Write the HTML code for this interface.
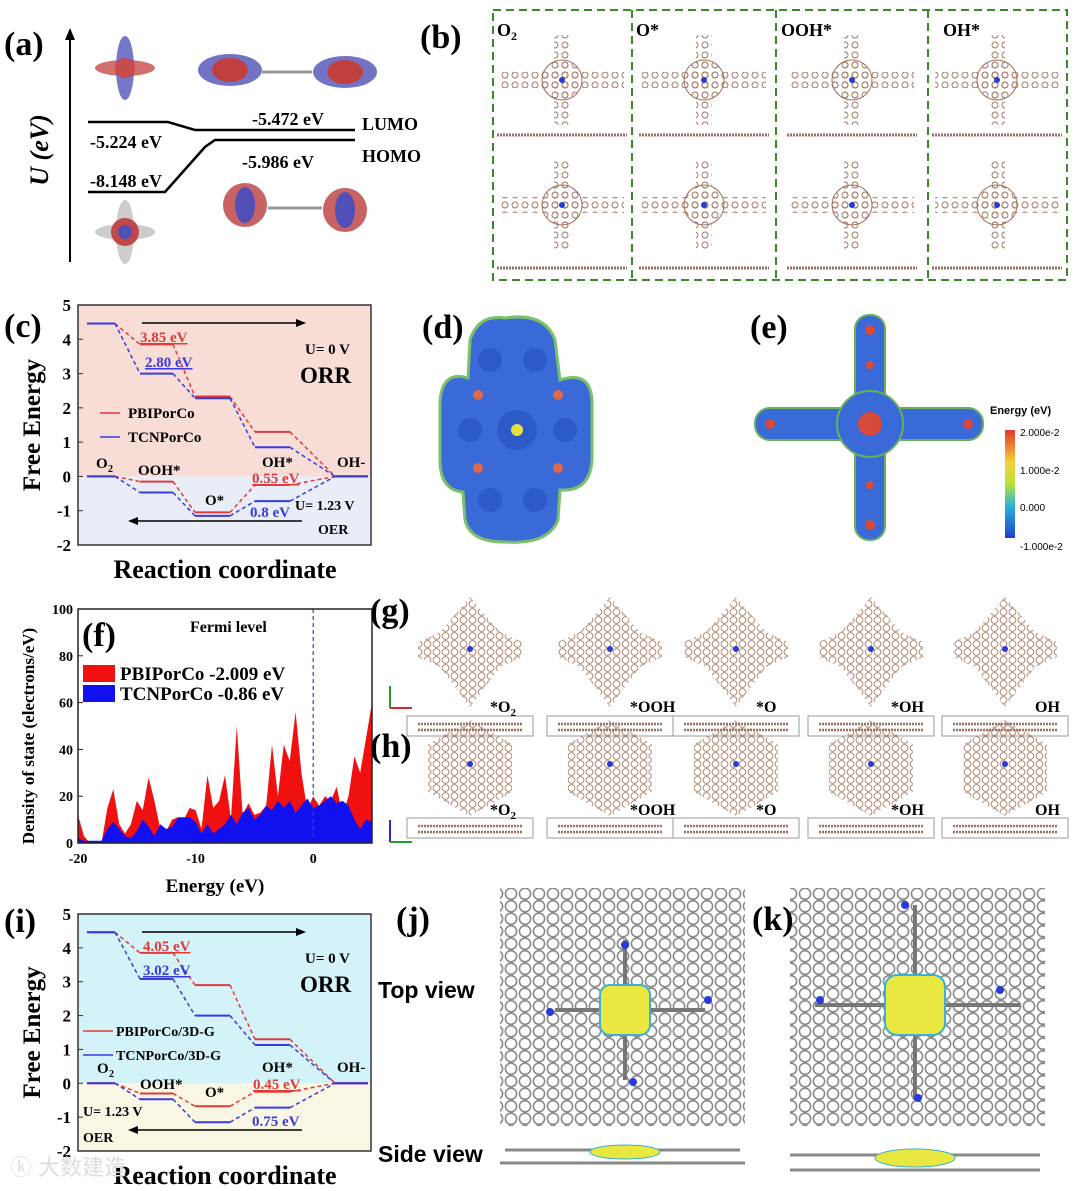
<!DOCTYPE html>
<html><head><meta charset="utf-8">
<style>
html,body{margin:0;padding:0;background:#fff;}
svg{display:block;font-family:"Liberation Serif",serif;}
.b{font-weight:bold;}
</style></head>
<body>
<svg id="fig" width="1079" height="1191" viewBox="0 0 1079 1191" xmlns="http://www.w3.org/2000/svg">
<defs>
  <pattern id="hexBrown" width="9" height="8" patternUnits="userSpaceOnUse">
    <circle cx="4.5" cy="4" r="3.4" fill="none" stroke="#b08870" stroke-width="1"/>
  </pattern>
  <pattern id="hexGrey" width="14" height="12.5" patternUnits="userSpaceOnUse">
    <circle cx="7" cy="6.25" r="5.6" fill="none" stroke="#8a8a8a" stroke-width="1.6"/>
  </pattern>
  <pattern id="molBrown" width="10" height="10" patternUnits="userSpaceOnUse">
    <circle cx="5" cy="5" r="3" fill="none" stroke="#a0705a" stroke-width="0.9"/>
  </pattern>
  <linearGradient id="cbar" x1="0" y1="1" x2="0" y2="0">
    <stop offset="0" stop-color="#1f3fd0"/><stop offset="0.3" stop-color="#2ab6d8"/>
    <stop offset="0.5" stop-color="#b8e03a"/><stop offset="0.7" stop-color="#f3d23a"/>
    <stop offset="1" stop-color="#e0382a"/>
  </linearGradient>
</defs>

<!-- Panel (a) -->
<g>
  <text x="4" y="55" font-size="34" class="b">(a)</text>
  <line x1="70" y1="262" x2="70" y2="36" stroke="#000" stroke-width="2"/>
  <polygon points="70,28 65,40 75,40" fill="#000"/>
  <text transform="translate(48,150) rotate(-90)" font-size="26" class="b" text-anchor="middle" font-style="italic">U (eV)</text>
  <g stroke="#000" stroke-width="2.5" fill="none">
    <polyline points="88,122 168,122 195,130 355,130"/>
    <polyline points="88,192 165,192 205,147 215,140 355,140"/>
  </g>
  <g font-size="18" class="b">
    <text x="90" y="148">-5.224 eV</text>
    <text x="252" y="125">-5.472 eV</text>
    <text x="362" y="130">LUMO</text>
    <text x="362" y="162">HOMO</text>
    <text x="242" y="168">-5.986 eV</text>
    <text x="90" y="187">-8.148 eV</text>
  </g>
  <g>
    <ellipse cx="125" cy="68" rx="30" ry="8" fill="#c84a4a" opacity=".8"/>
    <ellipse cx="125" cy="68" rx="9" ry="32" fill="#4a4ab8" opacity=".75"/>
    <circle cx="125" cy="68" r="10" fill="#c84a4a"/>
  </g>
  <g>
    <ellipse cx="230" cy="70" rx="32" ry="16" fill="#5050b8" opacity=".8"/>
    <ellipse cx="230" cy="70" rx="18" ry="12" fill="#c04040"/>
    <ellipse cx="345" cy="72" rx="32" ry="16" fill="#5050b8" opacity=".8"/>
    <ellipse cx="345" cy="72" rx="18" ry="12" fill="#c04040"/>
    <line x1="262" y1="72" x2="312" y2="72" stroke="#999" stroke-width="3"/>
  </g>
  <g>
    <ellipse cx="125" cy="232" rx="30" ry="8" fill="#aaa" opacity=".6"/>
    <ellipse cx="125" cy="232" rx="9" ry="32" fill="#aaa" opacity=".6"/>
    <circle cx="125" cy="232" r="14" fill="#c04848"/>
    <circle cx="125" cy="232" r="7" fill="#5050b8"/>
  </g>
  <g>
    <ellipse cx="245" cy="205" rx="22" ry="22" fill="#c04848" opacity=".85"/>
    <ellipse cx="245" cy="205" rx="10" ry="18" fill="#5050b8"/>
    <ellipse cx="345" cy="210" rx="22" ry="22" fill="#c04848" opacity=".85"/>
    <ellipse cx="345" cy="210" rx="10" ry="18" fill="#5050b8"/>
    <line x1="268" y1="208" x2="322" y2="208" stroke="#999" stroke-width="3"/>
  </g>
</g>

<!-- Panel (b) -->
<g>
  <text x="420" y="48" font-size="34" class="b">(b)</text>
  <rect x="493" y="10" width="574" height="270" fill="none" stroke="#3a8a2a" stroke-width="2" stroke-dasharray="8,5"/>
  <g stroke="#3a8a2a" stroke-width="2" stroke-dasharray="8,5">
    <line x1="632" y1="10" x2="632" y2="280"/><line x1="776" y1="10" x2="776" y2="280"/><line x1="928" y1="10" x2="928" y2="280"/>
  </g>
  <g font-size="18" class="b">
    <text x="497" y="36">O<tspan font-size="12" dy="4">2</tspan></text>
    <text x="636" y="36">O*</text>
    <text x="781" y="36">OOH*</text>
    <text x="943" y="36">OH*</text>
  </g>
  <g id="bmols"></g>
</g>

<!-- Panel (c) -->
<g id="panelC">
  <text x="4" y="337" font-size="34" class="b">(c)</text>
</g>

<!-- Panel (d) -->
<g>
  <text x="422" y="338" font-size="34" class="b">(d)</text>
  <path d="M505,318 Q545,312 555,340 L560,380 Q590,370 592,400 L592,460 Q590,492 560,490 L558,520 Q548,545 505,542 Q470,542 465,520 L463,492 Q440,490 440,460 L440,402 Q442,370 468,378 L470,340 Q478,314 505,318 Z" fill="#3a6ad8" stroke="#7ac06a" stroke-width="3"/>
  <g fill="#2450c0" opacity=".6">
    <circle cx="490" cy="360" r="12"/><circle cx="535" cy="360" r="12"/><circle cx="470" cy="430" r="12"/><circle cx="565" cy="430" r="12"/>
    <circle cx="490" cy="500" r="12"/><circle cx="535" cy="500" r="12"/><circle cx="517" cy="430" r="20"/>
  </g>
  <g fill="#e06a4a"><circle cx="478" cy="395" r="5"/><circle cx="558" cy="395" r="5"/><circle cx="478" cy="468" r="5"/><circle cx="558" cy="468" r="5"/></g>
  <circle cx="517" cy="430" r="6" fill="#e8e040"/>
</g>

<!-- Panel (e) -->
<g>
  <text x="750" y="338" font-size="34" class="b">(e)</text>
  <g fill="#3a6ad8" stroke="#6ab05a" stroke-width="2">
    <rect x="855" y="315" width="30" height="225" rx="14"/>
    <rect x="755" y="408" width="228" height="32" rx="15"/>
    <circle cx="870" cy="424" r="33"/>
  </g>
  <g fill="#d84a3a">
    <circle cx="870" cy="424" r="12"/><circle cx="870" cy="330" r="5"/><circle cx="870" cy="525" r="5"/>
    <circle cx="770" cy="424" r="5"/><circle cx="968" cy="424" r="5"/><circle cx="870" cy="365" r="4"/><circle cx="870" cy="485" r="4"/>
  </g>
  <text x="990" y="414" font-size="11" class="b" font-family="Liberation Sans, sans-serif">Energy (eV)</text>
  <rect x="1005" y="430" width="10" height="108" fill="url(#cbar)"/>
  <g font-size="10" font-family="Liberation Sans, sans-serif">
    <text x="1020" y="436">2.000e-2</text>
    <text x="1020" y="474">1.000e-2</text>
    <text x="1020" y="511">0.000</text>
    <text x="1020" y="550">-1.000e-2</text>
  </g>
</g>

<!-- Panel (f) -->
<g id="panelF"></g>

<!-- Panels (g),(h) -->
<g id="panelGH">
  <text x="370" y="622" font-size="34" class="b">(g)</text>
  <text x="370" y="757" font-size="34" class="b">(h)</text>
  <g stroke-width="2"><line x1="390" y1="708" x2="390" y2="686" stroke="#2a9a2a"/><line x1="390" y1="708" x2="412" y2="708" stroke="#d82a2a"/>
  <line x1="390" y1="842" x2="390" y2="820" stroke="#2a2ad8"/><line x1="390" y1="842" x2="412" y2="842" stroke="#2a9a2a"/></g>
</g>

<!-- Panel (i) -->
<g id="panelI">
  <text x="4" y="932" font-size="34" class="b">(i)</text>
</g>

<!-- Panels (j),(k) -->
<g>
  <rect x="500" y="888" width="245" height="238" fill="url(#hexGrey)"/>
  <rect x="790" y="888" width="255" height="238" fill="url(#hexGrey)"/>
  <text x="396" y="930" font-size="34" class="b">(j)</text>
  <text x="752" y="930" font-size="34" class="b">(k)</text>
  <text x="378" y="998" font-size="23" class="b" font-family="Liberation Sans, sans-serif">Top view</text>
  <text x="378" y="1162" font-size="23" class="b" font-family="Liberation Sans, sans-serif">Side view</text>
  <g stroke="#777" stroke-width="4" fill="none">
    <line x1="625" y1="940" x2="625" y2="1080"/><line x1="555" y1="1010" x2="705" y2="1010"/>
    <line x1="915" y1="905" x2="915" y2="1100"/><line x1="815" y1="1005" x2="1020" y2="1005"/>
  </g>
  <g fill="#e8e840" stroke="#3ab0d8" stroke-width="2">
    <rect x="600" y="985" width="50" height="50" rx="10"/><rect x="885" y="975" width="60" height="60" rx="12"/>
  </g>
  <g fill="#2a3ad8"><circle cx="625" cy="945" r="4"/><circle cx="550" cy="1012" r="4"/><circle cx="708" cy="1000" r="4"/><circle cx="633" cy="1082" r="4"/>
  <circle cx="905" cy="905" r="4"/><circle cx="820" cy="1000" r="4"/><circle cx="1000" cy="990" r="4"/><circle cx="918" cy="1098" r="4"/></g>
  <g stroke="#888" stroke-width="3">
    <line x1="500" y1="1163" x2="745" y2="1163"/><line x1="505" y1="1150" x2="740" y2="1150"/>
    <line x1="790" y1="1170" x2="1040" y2="1170"/><line x1="790" y1="1155" x2="1040" y2="1155"/>
  </g>
  <ellipse cx="625" cy="1152" rx="35" ry="7" fill="#e8e840" stroke="#3ab0d8"/>
  <ellipse cx="915" cy="1158" rx="40" ry="9" fill="#e8e840" stroke="#3ab0d8"/>
</g>
<text x="10" y="1175" font-size="22" fill="#ddd" font-family="Liberation Sans, Noto Sans CJK SC, sans-serif">ⓚ 大数建造</text>
</svg>

<script>
// ===== Panel (c) data =====
const cSteps = ["O2","OOH*","O*","OH*","OH-"];
const cOrrPBI = [4.46, 3.85, 2.33, 1.30, 0];
const cOrrTCN = [4.46, 3.00, 2.28, 0.85, 0];
const cOerPBI = [0, -0.15, -1.05, -0.25, 0];
const cOerTCN = [0, -0.47, -1.15, -0.72, 0];
// ===== Panel (i) data =====
const iOrrPBI = [4.46, 3.85, 2.90, 1.30, 0];
const iOrrTCN = [4.46, 3.08, 2.00, 1.13, 0];
const iOerPBI = [0, -0.30, -0.68, -0.25, 0];
const iOerTCN = [0, -0.47, -1.15, -0.72, 0];
const feTicks = [5,4,3,2,1,0,-1,-2];
// ===== Panel (f) data =====
const dosEnergy = [-20,-19.5,-19,-18.5,-18,-17.5,-17,-16.5,-16,-15.5,-15,-14.5,-14,-13.5,-13,-12.5,-12,-11.5,-11,-10.5,-10,-9.5,-9,-8.5,-8,-7.5,-7,-6.5,-6,-5.5,-5,-4.5,-4,-3.5,-3,-2.5,-2,-1.5,-1,-0.5,0,0.5,1,1.5,2,2.5,3,3.5,4,4.5,5];
const dosPBI = [12,3,0,0,0,15,23,8,4,8,18,14,28,18,6,5,10,11,10,15,14,6,29,15,18,29,10,50,12,17,12,13,16,42,20,42,35,56,30,14,20,16,20,18,24,12,20,37,30,45,60];
const dosTCN = [2,1,1,1,1,6,9,6,3,2,5,10,7,3,8,6,7,11,11,11,9,4,8,4,6,8,12,8,13,15,10,12,16,14,18,15,18,13,16,19,15,16,18,20,17,18,16,10,6,10,9];
const dosXTicks = [-20,-10,0];
const dosYTicks = [0,20,40,60,80,100];

const NS = "http://www.w3.org/2000/svg";
function mk(tag, attrs, parent){const e=document.createElementNS(NS,tag);for(const k in attrs)e.setAttribute(k,attrs[k]);parent.appendChild(e);return e;}
function txt(s, attrs, parent){const e=mk("text",attrs,parent);e.textContent=s;return e;}

function energyPanel(g, opt){
  const L=78, R=371, T=opt.top, B=opt.bottom;
  const y=v=>B-(v+2)/7*(B-T);
  const stepX=[[87,115],[140,173],[195,230],[255,290],[335,368]];
  const bgTop=mk("rect",{x:L,y:T,width:R-L,height:y(0)-T,fill:opt.bgTop},g);
  
  
  const bgBot=mk("rect",{x:L,y:y(0),width:R-L,height:B-y(0),fill:opt.bgBot},g);
  
  
  mk("rect",{x:L,y:T,width:R-L,height:B-T,fill:"none",stroke:"#333","stroke-width":1.5},g);
  feTicks.forEach(t=>{
    mk("line",{x1:L,x2:L+5,y1:y(t),y2:y(t),stroke:"#333"},g);
    const tl=txt(String(t),{x:L-7,y:y(t)+6,"font-size":17,"font-weight":"bold","text-anchor":"end"},g);
    
    
  });
  const yt=txt("Free Energy",{transform:`translate(40,${(T+B)/2}) rotate(-90)`,"font-size":25,"font-weight":"bold","text-anchor":"middle"},g);
  
  
  const xt=txt("Reaction coordinate",{x:225,y:B+33,"font-size":26,"font-weight":"bold","text-anchor":"middle"},g);
  
  
  function series(vals,color,name){
    const sg=mk("g",{},g);
    
    
    vals.forEach((v,i)=>{
      mk("line",{x1:stepX[i][0],x2:stepX[i][1],y1:y(v),y2:y(v),stroke:color,"stroke-width":2},sg);
      if(i<vals.length-1) mk("line",{x1:stepX[i][1],x2:stepX[i+1][0],y1:y(v),y2:y(vals[i+1]),stroke:color,"stroke-width":1.5,"stroke-dasharray":"4,3"},sg);
    });
  }
  series(opt.orrPBI,"#e03a3a","orr-pbi-series");
  series(opt.orrTCN,"#3a3ae0","orr-tcn-series");
  series(opt.oerPBI,"#e03a3a","oer-pbi-series");
  series(opt.oerTCN,"#3a3ae0","oer-tcn-series");
  mk("line",{x1:142,x2:300,y1:T+18,y2:T+18,stroke:"#000","stroke-width":1.5},g);
  mk("polygon",{points:`306,${T+18} 296,${T+14} 296,${T+22}`},g);
  mk("line",{x1:135,x2:302,y1:opt.oerArrowY,y2:opt.oerArrowY,stroke:"#000","stroke-width":1.5},g);
  mk("polygon",{points:`128,${opt.oerArrowY} 138,${opt.oerArrowY-4} 138,${opt.oerArrowY+4}`},g);
  txt("U= 0 V",{x:305,y:T+49,"font-size":15,"font-weight":"bold"},g);
  txt("ORR",{x:300,y:T+78,"font-size":23,"font-weight":"bold"},g);
  opt.labels.forEach(l=>txt(l[0],{x:l[1],y:l[2],"font-size":l[3]||15,"font-weight":"bold",fill:l[4]||"#000","text-decoration":l[5]||"none"},g));
  mk("line",{x1:opt.legL[0],x2:opt.legL[1],y1:opt.legY,y2:opt.legY,stroke:"#e03a3a","stroke-width":1.5},g);
  mk("line",{x1:opt.legL[0],x2:opt.legL[1],y1:opt.legY+24,y2:opt.legY+24,stroke:"#3a3ae0","stroke-width":1.5},g);
  const l1=txt(opt.leg[0],{x:opt.legX,y:opt.legY+5,"font-size":opt.legFs,"font-weight":"bold"},g);
  
  
  const l2=txt(opt.leg[1],{x:opt.legX,y:opt.legY+29,"font-size":opt.legFs,"font-weight":"bold"},g);
  
  
  return y;
}

energyPanel(document.getElementById("panelC"),{top:305,bottom:545,bgTop:"#f8dcd6",bgBot:"#e9edf8",
  orrPBI:cOrrPBI,orrTCN:cOrrTCN,oerPBI:cOerPBI,oerTCN:cOerTCN,oerArrowY:521,legX:128,legY:413,legFs:15,legL:[100,120],
  leg:["PBIPorCo","TCNPorCo"],
  labels:[["3.85 eV",140,342,15,"#e03a3a","underline"],["2.80 eV",145,367,15,"#3a3ae0","underline"],
  ["O",96,468,15],["2",108,472,10],["OOH*",138,475],["O*",205,505],["OH*",262,467],["OH-",337,467],
  ["0.55 eV",252,483,15,"#e03a3a","underline"],["0.8 eV",250,517,15,"#3a3ae0"],["U= 1.23 V",295,510,14],["OER",318,534,14]]});

energyPanel(document.getElementById("panelI"),{top:914,bottom:1151,bgTop:"#d4f3f8",bgBot:"#faf6e4",
  orrPBI:iOrrPBI,orrTCN:iOrrTCN,oerPBI:iOerPBI,oerTCN:iOerTCN,oerArrowY:1130,legX:116,legY:1031,legFs:14,legL:[83,113],
  leg:["PBIPorCo/3D-G","TCNPorCo/3D-G"],
  labels:[["4.05 eV",143,951,15,"#e03a3a","underline"],["3.02 eV",143,975,15,"#3a3ae0","underline"],
  ["O",97,1073,15],["2",109,1077,10],["OOH*",140,1089],["O*",205,1097],["OH*",262,1072],["OH-",337,1072],
  ["0.45 eV",253,1089,15,"#e03a3a","underline"],["0.75 eV",252,1126,15,"#3a3ae0"],["U= 1.23 V",83,1116,14],["OER",83,1142,14]]});

// Panel (f)
(function(){
  const g=document.getElementById("panelF");
  const L=78,R=372,T=609,B=843;
  const x=v=>L+(v+20)/25*(R-L), y=v=>B-v/100*(B-T);
  function area(vals,color,name){
    let d=`M${x(dosEnergy[0])},${y(0)}`;
    vals.forEach((v,i)=>d+=` L${x(dosEnergy[i]).toFixed(1)},${y(v).toFixed(1)}`);
    d+=` L${x(dosEnergy[dosEnergy.length-1])},${y(0)} Z`;
    const p=mk("path",{d:d,fill:color,"stroke-linejoin":"round"},g);
    
    
  }
  area(dosPBI,"#f01010","dos-pbi-area");
  area(dosTCN,"#1010f0","dos-tcn-area");
  mk("line",{x1:x(0),x2:x(0),y1:T,y2:B,stroke:"#3a3ae0","stroke-width":1.2,"stroke-dasharray":"4,3"},g);
  mk("rect",{x:L,y:T,width:R-L,height:B-T,fill:"none",stroke:"#222","stroke-width":1.5},g);
  dosYTicks.forEach(t=>{mk("line",{x1:L,x2:L+5,y1:y(t),y2:y(t),stroke:"#222"},g);
    const tl=txt(String(t),{x:L-5,y:y(t)+5,"font-size":14,"font-weight":"bold","text-anchor":"end"},g);
    
    });
  dosXTicks.forEach(t=>{mk("line",{x1:x(t),x2:x(t),y1:B,y2:B-5,stroke:"#222"},g);
    const tl=txt(String(t),{x:x(t),y:B+20,"font-size":14,"font-weight":"bold","text-anchor":"middle"},g);
    
    });
  const yt=txt("Density of state (electrons/eV)",{transform:`translate(34,${(T+B)/2+10}) rotate(-90)`,"font-size":17,"font-weight":"bold","text-anchor":"middle"},g);
  
  
  const xt=txt("Energy (eV)",{x:215,y:892,"font-size":19,"font-weight":"bold","text-anchor":"middle"},g);
  
  
  txt("(f)",{x:82,y:646,"font-size":34,"font-weight":"bold"},g);
  txt("Fermi level",{x:190,y:632,"font-size":16,"font-weight":"bold"},g);
  mk("rect",{x:83,y:665,width:32,height:17,fill:"#f01010"},g);
  mk("rect",{x:83,y:685,width:32,height:17,fill:"#1010f0"},g);
  const l1=txt("PBIPorCo  -2.009 eV",{x:120,y:680,"font-size":19,"font-weight":"bold"},g);
  l1.setAttribute('xml:space','preserve');
  
  
  const l2=txt("TCNPorCo  -0.86 eV",{x:120,y:700,"font-size":19,"font-weight":"bold"},g);
  
  
})();

// Panel (b) molecules
(function(){
  const g=document.getElementById("bmols");
  [562,704,852,997].forEach(cx=>{
    [[80,135],[205,268]].forEach(([cy,sy])=>{
      mk("rect",{x:cx-8,y:cy-45,width:16,height:90,fill:"url(#molBrown)"},g);
      mk("rect",{x:cx-62,y:cy-8,width:124,height:16,fill:"url(#molBrown)"},g);
      mk("circle",{cx:cx,cy:cy,r:20,fill:"url(#molBrown)",stroke:"#a0705a","stroke-width":1},g);
      mk("circle",{cx:cx,cy:cy,r:3,fill:"#2a3ad8"},g);
      mk("line",{x1:cx-65,x2:cx+65,y1:sy,y2:sy,stroke:"#9a7060","stroke-width":3,"stroke-dasharray":"2,1"},g);
    });
  });
})();

// Panels g/h
(function(){
  const g=document.getElementById("panelGH");
  const cxs=[470,610,736,871,1005];
  const labs=[["*O","2"],["*OOH",""],["*O",""],["*OH",""],["OH",""]];
  cxs.forEach((cx,i)=>{
    const cy=652;
    mk("polygon",{points:`${cx},${cy-55} ${cx+30},${cy-20} ${cx+52},${cy-10} ${cx+52},${cy+5} ${cx+30},${cy+15} ${cx},${cy+55} ${cx-30},${cy+15} ${cx-52},${cy+5} ${cx-52},${cy-10} ${cx-30},${cy-20}`,fill:"url(#hexBrown)"},g);
    mk("circle",{cx:cx,cy:cy-3,r:3,fill:"#2a3ad8"},g);
    const hy=768;
    mk("polygon",{points:`${cx},${hy-48} ${cx+42},${hy-24} ${cx+42},${hy+24} ${cx},${hy+48} ${cx-42},${hy+24} ${cx-42},${hy-24}`,fill:"url(#hexBrown)"},g);
    mk("circle",{cx:cx,cy:hy-4,r:3,fill:"#2a3ad8"},g);
    mk("rect",{x:cx-63,y:716,width:126,height:20,fill:"none",stroke:"#999"},g);
    mk("rect",{x:cx-63,y:818,width:126,height:20,fill:"none",stroke:"#999"},g);
    [[722,730],[824,832]].forEach(([a,b])=>{
      mk("line",{x1:cx-52,x2:cx+52,y1:a+2,y2:a+2,stroke:"#9a7060","stroke-width":2.5,"stroke-dasharray":"2,1"},g);
      mk("line",{x1:cx-52,x2:cx+52,y1:b,y2:b,stroke:"#9a7060","stroke-width":2.5,"stroke-dasharray":"2,1"},g);
    });
    [712,815].forEach(yy=>{
      const t=txt(labs[i][0],{x:cx+(i==4?30:20),y:yy,"font-size":16,"font-weight":"bold"},g);
      if(labs[i][1]){const s=mk("tspan",{"font-size":11,dy:4},t);s.textContent=labs[i][1];}
      
      
    });
  });
})();
</script>
</body></html>
